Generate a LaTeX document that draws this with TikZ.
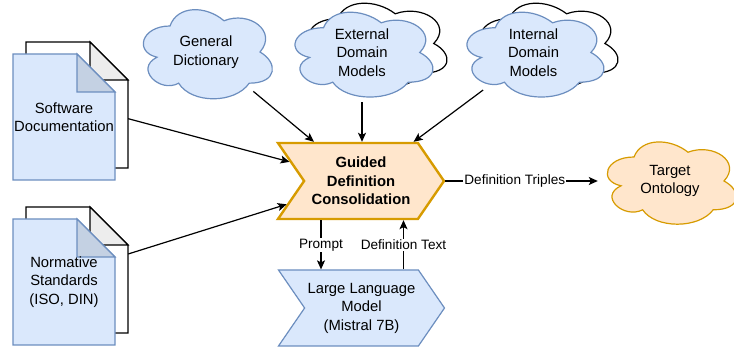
\documentclass[tikz,border=0pt]{standalone}
\usepackage{fontspec}
\setmainfont{Liberation Sans}
\usetikzlibrary{arrows.meta,shapes.geometric,shapes.symbols}

\definecolor{bluefill}{HTML}{DAE8FC}
\definecolor{bluedraw}{HTML}{6C8EBF}
\definecolor{bluefold}{HTML}{C4D1E3}
\definecolor{orangefill}{HTML}{FFE6CC}
\definecolor{orangedraw}{HTML}{D79B00}
\definecolor{greyfold}{HTML}{EDEDED}

% cloud outline in the box with top-left corner (#2,#3) and size #4 x #5
\newcommand{\cloudoutline}[5]{%
  \begin{scope}[shift={(#2,#3)},x=#4pt,y=-#5pt]
  \path[#1] (.25,.25) .. controls (.05,.25) and (0,.5) .. (.16,.55)
    .. controls (0,.66) and (.18,.9) .. (.31,.8)
    .. controls (.4,1) and (.7,1) .. (.8,.8)
    .. controls (1,.8) and (1,.6) .. (.875,.5)
    .. controls (1,.3) and (.8,.1) .. (.625,.2)
    .. controls (.5,.05) and (.3,.05) .. (.25,.25) -- cycle;
  \end{scope}}

% sheet with a folded corner, top-left corner at (#3,#4)
\newcommand{\sheetoutline}[4]{%
  \path[#1] (#3,#4) -- ++(64,0) -- ++(38,38) -- ++(0,88) -- ++(-102,0) -- cycle;
  \path[#2] (#3+64,#4) -- ++(0,38) -- ++(38,0) -- cycle;}

\begin{document}
\begin{tikzpicture}[x=1pt,y=-1pt,
  nodetext/.style={font=\fontsize{14.8}{18.5}\selectfont, align=center, inner sep=0pt},
  cloudnode/.style={nodetext, ellipse},
  sheetnode/.style={nodetext, minimum width=102pt, minimum height=126pt},
  stepbox/.style={nodetext, signal, signal from=west, signal to=east,
    signal pointer angle=111, minimum width=166pt, minimum height=76pt},
  bluestroke/.style={fill=bluefill, draw=bluedraw, line width=1.2pt},
  orangestroke/.style={fill=orangefill, draw=orangedraw, line width=1.2pt},
  blackstroke/.style={fill=white, draw=black, line width=1.2pt},
  link/.style={-{Stealth[length=9pt,width=8pt,inset=2pt]}, line width=1.2pt},
  linklabel/.style={font=\fontsize{13.6}{16}\selectfont, fill=white, inner sep=1pt}]
\useasboundingbox (0,0) rectangle (734,347);

\sheetoutline{blackstroke}{blackstroke, fill=greyfold}{26}{42}
\node[sheetnode] (swback) at (77,105) {};
\sheetoutline{bluestroke}{bluestroke, fill=bluefold}{13}{54}
\node[sheetnode] (swdoc) at (64,117) {Software\\Documentation};

\sheetoutline{blackstroke}{blackstroke, fill=greyfold}{26}{207}
\node[sheetnode] (nsback) at (77,270) {};
\sheetoutline{bluestroke}{bluestroke, fill=bluefold}{13}{219}
\node[sheetnode] (nsdoc) at (64,282) {Normative\\Standards\\(ISO, DIN)};

\cloudoutline{bluestroke}{134}{0}{144}{104}
\node[cloudnode, minimum width=144pt, minimum height=104pt] (gdict) at (206,52) {General\\Dictionary};

\cloudoutline{blackstroke}{299}{-6}{154}{99}
\cloudoutline{bluestroke}{285}{3}{154}{99}
\node[cloudnode, minimum width=154pt, minimum height=99pt] (extdm) at (362,52.5) {External\\Domain\\Models};

\cloudoutline{blackstroke}{471}{-6}{153}{99}
\cloudoutline{bluestroke}{457}{3}{153}{99}
\node[cloudnode, minimum width=153pt, minimum height=99pt] (intdm) at (533.5,52.5) {Internal\\Domain\\Models};

\cloudoutline{orangestroke}{598}{133}{144}{96}
\node[cloudnode, minimum width=144pt, minimum height=96pt] (target) at (670,181) {Target\\Ontology};

\node[stepbox, fill=orangefill, draw=orangedraw, line width=2.4pt, font=\fontsize{14.8}{18.5}\selectfont\bfseries] (gdc) at (361,181) {Guided\\Definition\\Consolidation};
\node[stepbox, bluestroke] (llm) at (361.5,308) {Large Language\\Model\\(Mistral 7B)};

\draw[link] (gdict) -- (gdc);
\draw[link] (extdm) -- (extdm |- gdc.north);
\draw[link] (intdm) -- (gdc);
\draw[link] (swback) -- (gdc);
\draw[link] (nsback) -- (gdc);
\draw[link] ([xshift=-40pt]gdc.south) -- ([xshift=-40pt]gdc.south |- llm.north) node[linklabel, midway] {Prompt};
\draw[link] ([xshift=42pt]llm.north) -- ([xshift=42pt]llm.north |- gdc.south) node[linklabel, midway] {Definition Text};
\draw[link] (gdc.east) -- (target) node[linklabel, pos=.455] {Definition Triples};
\end{tikzpicture}
\end{document}
